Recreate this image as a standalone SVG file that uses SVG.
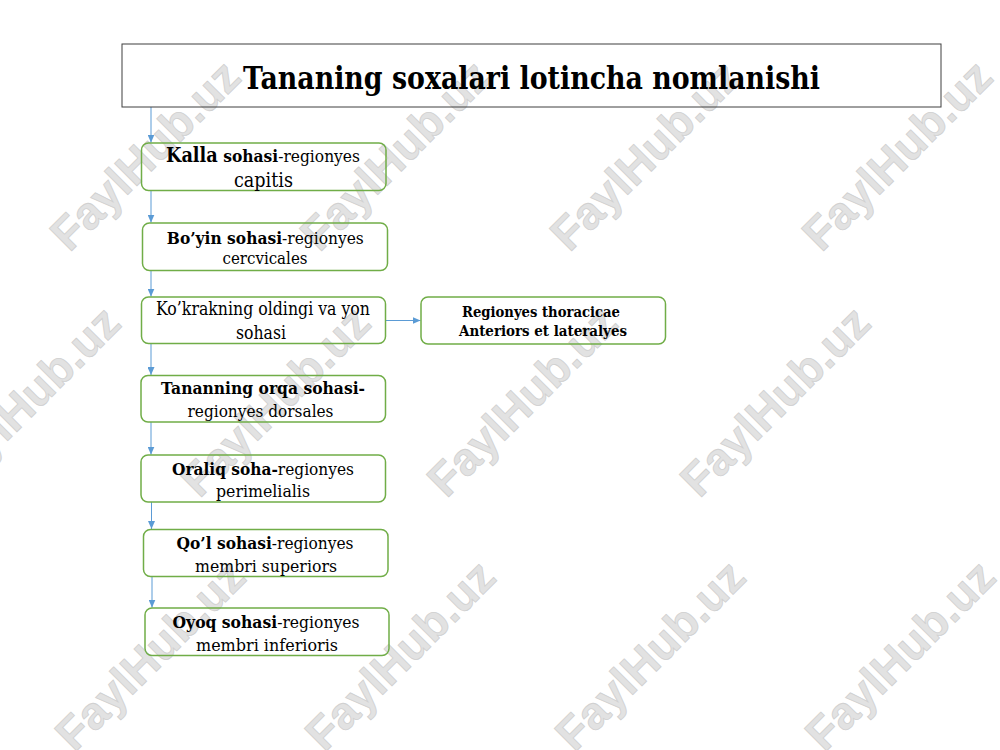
<svg xmlns="http://www.w3.org/2000/svg" width="1000" height="750" viewBox="0 0 1000 750">
<defs>
<style>
.wm{font-family:"Liberation Sans",Arial,sans-serif;font-weight:bold;font-size:46px;fill:#e2e2e2;stroke:#d0d0d0;stroke-width:0.8;text-anchor:middle;dominant-baseline:central}
.box{fill:none;stroke:#70ad47;stroke-width:1.5}
.t{font-family:"DejaVu Serif","Liberation Serif",serif;font-size:17px;fill:#000;text-anchor:middle}
.b{font-weight:bold}
.con{stroke:#5b9bd5;stroke-width:1;fill:none;marker-end:url(#ah)}
</style>
<marker id="ah" markerUnits="userSpaceOnUse" markerWidth="8" markerHeight="7" refX="8" refY="3.5" orient="auto">
<path d="M0,0 L8,3.5 L0,7 z" fill="#5b9bd5"/>
</marker>
</defs>
<rect width="1000" height="750" fill="#fff"/>
<g id="watermarks">
<text class="wm" transform="translate(145,155) rotate(-45)">FaylHub.uz</text>
<text class="wm" transform="translate(395,155) rotate(-45)">FaylHub.uz</text>
<text class="wm" transform="translate(645,155) rotate(-45)">FaylHub.uz</text>
<text class="wm" transform="translate(897,155) rotate(-45)">FaylHub.uz</text>
<text class="wm" transform="translate(25,401) rotate(-45)">FaylHub.uz</text>
<text class="wm" transform="translate(275,401) rotate(-45)">FaylHub.uz</text>
<text class="wm" transform="translate(522,401) rotate(-45)">FaylHub.uz</text>
<text class="wm" transform="translate(775,401) rotate(-45)">FaylHub.uz</text>
<text class="wm" transform="translate(150,655) rotate(-45)">FaylHub.uz</text>
<text class="wm" transform="translate(400,655) rotate(-45)">FaylHub.uz</text>
<text class="wm" transform="translate(650,655) rotate(-45)">FaylHub.uz</text>
<text class="wm" transform="translate(900,655) rotate(-45)">FaylHub.uz</text>
</g>
<g id="connectors">
<line class="con" x1="151" y1="107" x2="151" y2="142.5"/>
<line class="con" x1="151" y1="190.5" x2="151" y2="222.5"/>
<line class="con" x1="151" y1="270.5" x2="151" y2="296.5"/>
<line class="con" x1="151" y1="343.5" x2="151" y2="375"/>
<line class="con" x1="151" y1="422" x2="151" y2="454.5"/>
<line class="con" x1="151.5" y1="502" x2="151.5" y2="529"/>
<line class="con" x1="152" y1="577" x2="152" y2="607.5"/>
<line class="con" x1="385.5" y1="320.5" x2="420.5" y2="320.5"/>
</g>
<g id="title">
<rect x="122" y="44" width="819" height="63" fill="none" stroke="#3f3f3f" stroke-width="1"/>
<text class="t b" x="531.5" y="89" style="font-size:31px" textLength="577" lengthAdjust="spacingAndGlyphs">Tananing soxalari lotincha nomlanishi</text>
</g>
<g id="kalla">
<rect class="box" x="141.5" y="143" width="244.5" height="47.5" rx="7"/>
<text class="t" x="263" y="162" textLength="194" lengthAdjust="spacingAndGlyphs"><tspan class="b" style="font-size:20px">Kalla</tspan><tspan class="b" style="font-size:17.5px"> sohasi</tspan><tspan style="font-size:17.5px">-regionyes</tspan></text>
<text class="t" x="263.5" y="187" style="font-size:19.5px" textLength="59" lengthAdjust="spacingAndGlyphs">capitis</text>
</g>
<g id="boyin">
<rect class="box" x="142.5" y="223" width="245" height="47.5" rx="7"/>
<text class="t" x="265.3" y="244" textLength="197" lengthAdjust="spacingAndGlyphs"><tspan class="b">Bo’yin sohasi</tspan>-regionyes</text>
<text class="t" x="265" y="264" textLength="85" lengthAdjust="spacingAndGlyphs">cercvicales</text>
</g>
<g id="kokrak">
<rect class="box" x="141.5" y="297" width="244" height="46.5" rx="7"/>
<text class="t" x="263" y="315" style="font-size:18px" textLength="214" lengthAdjust="spacingAndGlyphs">Ko’krakning oldingi va yon</text>
<text class="t" x="261" y="339" style="font-size:18px" textLength="50" lengthAdjust="spacingAndGlyphs">sohasi</text>
</g>
<g id="thoracicae">
<rect class="box" x="421" y="297" width="244.5" height="47" rx="7"/>
<text class="t b" x="541" y="316.5" style="font-size:15px" textLength="158" lengthAdjust="spacingAndGlyphs">Regionyes thoracicae</text>
<text class="t b" x="543" y="336" style="font-size:15px" textLength="168" lengthAdjust="spacingAndGlyphs">Anteriors et lateralyes</text>
</g>
<g id="tananning">
<rect class="box" x="141" y="375.5" width="244.5" height="46.5" rx="7"/>
<text class="t b" x="263" y="394" textLength="204" lengthAdjust="spacingAndGlyphs">Tananning orqa sohasi-</text>
<text class="t" x="260.5" y="417" textLength="146" lengthAdjust="spacingAndGlyphs">regionyes dorsales</text>
</g>
<g id="oraliq">
<rect class="box" x="141" y="455" width="244.5" height="47" rx="7"/>
<text class="t" x="263" y="475" textLength="182" lengthAdjust="spacingAndGlyphs"><tspan class="b">Oraliq soha-</tspan>regionyes</text>
<text class="t" x="263" y="497" textLength="94" lengthAdjust="spacingAndGlyphs">perimelialis</text>
</g>
<g id="qol">
<rect class="box" x="143.5" y="529.5" width="244.5" height="47" rx="7"/>
<text class="t" x="265" y="549" textLength="177" lengthAdjust="spacingAndGlyphs"><tspan class="b">Qo’l sohasi</tspan>-regionyes</text>
<text class="t" x="266" y="571.5" textLength="142" lengthAdjust="spacingAndGlyphs">membri superiors</text>
</g>
<g id="oyoq">
<rect class="box" x="145" y="608" width="244" height="47.5" rx="7"/>
<text class="t" x="266" y="628" textLength="187" lengthAdjust="spacingAndGlyphs"><tspan class="b">Oyoq sohasi</tspan>-regionyes</text>
<text class="t" x="267" y="650.5" textLength="142" lengthAdjust="spacingAndGlyphs">membri inferioris</text>
</g>
</svg>
